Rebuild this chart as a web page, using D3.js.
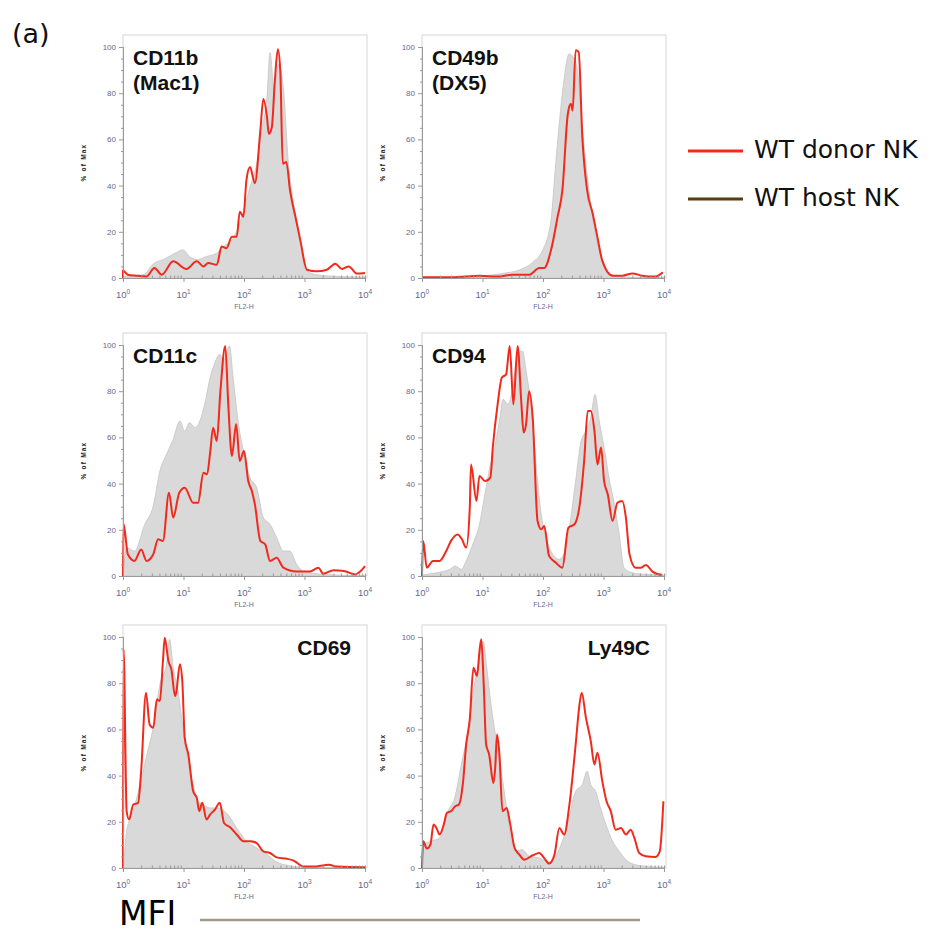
<!DOCTYPE html>
<html>
<head>
<meta charset="utf-8">
<script src="https://cdn.jsdelivr.net/npm/d3@7/dist/d3.min.js"></script>
<style>
  html, body { margin: 0; padding: 0; background: #fff; }
  svg { display: block; }
</style>
</head>
<body>
<svg id="chart" width="930" height="933"></svg>
<script>
// Flow cytometry overlays: donor vs host NK cells, six surface markers.
// Each point is [log10(FL2-H), % of max].

const markers = ["CD11b", "CD49b", "CD11c", "CD94", "CD69", "Ly49C"];
const subtitles = ["(Mac1)", "(DX5)", "", "", "", ""];

const cd11bDonor = [[0,0],[0,3.3],[0.08,1.4],[0.22,1],[0.39,0.7],[0.52,4.3],[0.64,1.4],[0.83,7.2],[1.05,3.9],[1.22,7.2],[1.33,5],[1.41,6.5],[1.55,5.7],[1.63,13.6],[1.71,12.9],[1.8,17.9],[1.88,17.9],[1.93,28.7],[1.99,26.5],[2.04,42.3],[2.1,48],[2.18,41],[2.27,63.8],[2.32,77.5],[2.38,69.6],[2.41,62.4],[2.46,65.3],[2.51,85.4],[2.56,99],[2.6,89.7],[2.64,49.5],[2.7,50.2],[2.76,38],[2.85,26.5],[2.93,16.5],[3.04,3.6],[3.2,2.9],[3.37,3.6],[3.51,6.2],[3.62,3.9],[3.73,5],[3.87,1.9],[4,2.2]];
const cd11bHost = [[0,0.7],[0.33,1.4],[0.52,6.5],[0.66,7.9],[0.88,11],[0.99,12.2],[1.1,9.3],[1.22,7.9],[1.38,9.3],[1.55,10.8],[1.66,13.6],[1.82,17.2],[1.93,23.7],[2.1,39.5],[2.21,49.5],[2.29,63.8],[2.38,78.2],[2.43,97.6],[2.5,81],[2.57,92.5],[2.65,82.5],[2.73,51],[2.82,32.3],[2.93,16.5],[3.01,3.6],[3.2,1.4],[3.54,0.7],[4,0.4]];

const cd49bDonor = [[0,0.3],[0.51,0.3],[0.95,1],[1.23,0.6],[1.5,1.4],[1.77,1.4],[1.94,4.3],[2.02,4.3],[2.13,11.8],[2.24,26.3],[2.32,37.9],[2.41,71],[2.46,75.4],[2.49,72.5],[2.54,98.6],[2.59,97.8],[2.65,61],[2.73,37.9],[2.82,28],[2.9,17.6],[2.98,7.5],[3.15,1],[3.31,1],[3.48,2],[3.64,1],[3.86,0.6],[3.98,2.5]];
const cd49bHost = [[0,0.1],[0.79,0.6],[1.34,2],[1.61,3.5],[1.83,6.8],[1.99,11.8],[2.13,24.6],[2.21,49.4],[2.29,72.5],[2.35,86.3],[2.43,97],[2.5,95.5],[2.57,90],[2.62,74],[2.71,49.4],[2.82,26.3],[2.93,11.8],[3.04,3.2],[3.2,1],[3.53,0.3],[4,0.1]];

const cd11cDonor = [[0,0],[0.01,22.4],[0.08,9.4],[0.19,6.5],[0.3,11.5],[0.39,6.5],[0.5,9.4],[0.58,15.9],[0.66,15.2],[0.76,36],[0.83,25.3],[0.93,36],[1.02,38.2],[1.16,31.7],[1.24,31.7],[1.33,44.7],[1.39,44],[1.44,53.4],[1.49,64.2],[1.55,58.4],[1.61,80],[1.69,99.6],[1.74,74.3],[1.8,52],[1.87,65.7],[1.93,49.8],[2,54.1],[2.07,41.1],[2.13,36.8],[2.18,31],[2.27,15.2],[2.35,13.7],[2.43,6.5],[2.54,7.9],[2.65,3.6],[2.87,1.9],[3.09,1.9],[3.23,3.6],[3.31,1],[3.48,2.5],[3.65,2.2],[3.84,0.7],[3.92,1.9],[4,4.3]];
const cd11cHost = [[0,0],[0.06,12.3],[0.19,10.8],[0.36,22.4],[0.5,30.3],[0.61,45.5],[0.72,52.7],[0.83,59.2],[0.94,67.1],[1.02,62.8],[1.1,66.4],[1.19,64.2],[1.27,67.1],[1.35,74.3],[1.44,85.9],[1.52,92.4],[1.6,96],[1.66,93.1],[1.76,99.6],[1.82,85.9],[1.91,65.7],[1.99,54.1],[2.1,42.6],[2.21,38.2],[2.32,25.3],[2.43,22.4],[2.54,16.6],[2.65,10.8],[2.76,10.8],[2.87,5],[2.98,2.2],[3.2,1],[3.54,0.4],[4,0.1]];

const cd94Donor = [[0,0],[0.02,15.2],[0.08,3.6],[0.18,6.5],[0.29,6.5],[0.4,10.8],[0.48,15.2],[0.59,18],[0.66,15.9],[0.73,12.3],[0.79,29.6],[0.81,48.3],[0.9,32.5],[0.95,43.3],[1.04,41.1],[1.13,42.6],[1.17,55.6],[1.25,74.3],[1.32,85.9],[1.39,87.3],[1.45,99.6],[1.51,74.3],[1.58,99.6],[1.64,75.8],[1.68,62.1],[1.72,65.7],[1.77,80],[1.83,68.5],[1.91,23.8],[1.97,20.2],[2.02,21.6],[2.1,8.7],[2.21,5.8],[2.32,3.6],[2.42,20.9],[2.52,22.4],[2.6,29.6],[2.68,49.8],[2.74,71.4],[2.79,71.4],[2.85,62.8],[2.9,48.3],[2.96,55.6],[3.01,41.1],[3.07,35.4],[3.15,23.8],[3.23,31.7],[3.31,32.5],[3.37,25.3],[3.43,9.4],[3.53,3.6],[3.62,3.6],[3.7,4.8],[3.81,1.9],[3.97,0.4]];
const cd94Host = [[0,0.4],[0.24,1.4],[0.46,2.9],[0.55,4.3],[0.65,2.9],[0.73,6.5],[0.84,13.7],[0.95,22.4],[1.04,35.4],[1.12,46.9],[1.2,55.6],[1.28,67.1],[1.34,76.5],[1.42,74.3],[1.5,81.5],[1.58,96],[1.66,97.4],[1.72,88.7],[1.8,74.3],[1.88,49.8],[1.97,26.7],[2.05,16.6],[2.16,9.4],[2.27,7.2],[2.38,12.3],[2.46,25.3],[2.54,41.1],[2.63,58.4],[2.71,62.8],[2.79,68.5],[2.86,78.6],[2.93,67.1],[3.01,55.6],[3.09,42.6],[3.18,31],[3.26,18],[3.34,3.6],[3.48,1.4],[3.7,0.7],[4,0.4]];

const cd69Donor = [[0,0],[0.01,94.7],[0.06,24.6],[0.1,21],[0.17,27.5],[0.25,28.2],[0.3,41.9],[0.38,75.9],[0.44,62.1],[0.5,60.7],[0.56,73],[0.61,72.3],[0.66,89.6],[0.69,99.7],[0.75,89.6],[0.8,86],[0.86,74.4],[0.88,75.9],[0.94,88.2],[0.98,80.9],[1.02,56.4],[1.08,49.1],[1.16,33.2],[1.22,30.3],[1.26,24.6],[1.31,28.2],[1.38,21],[1.44,23.1],[1.52,25.3],[1.6,28.2],[1.67,19.5],[1.77,17.6],[1.88,14.5],[1.99,11.6],[2.1,11.6],[2.21,10.8],[2.32,7.2],[2.43,6.5],[2.54,4.6],[2.71,4],[2.82,3.2],[2.98,0.7],[3.2,0.7],[3.4,1.4],[3.54,0.6],[4,0.3]];
const cd69Host = [[0.01,0],[0.06,15.9],[0.17,24.6],[0.28,36.1],[0.41,50.6],[0.52,63.6],[0.61,79.5],[0.72,88.2],[0.77,99],[0.83,86.7],[0.91,76.6],[0.99,60.7],[1.08,46.2],[1.16,36.1],[1.24,28.9],[1.33,27.5],[1.44,26],[1.57,26],[1.71,23.8],[1.88,17.3],[2.04,11.6],[2.21,8.7],[2.38,5.8],[2.54,2.6],[2.71,1.2],[2.98,0.3],[4,0.1]];

const ly49cDonor = [[0,0],[0.02,11.6],[0.08,8.4],[0.14,10.1],[0.19,18.8],[0.24,17.3],[0.29,14.5],[0.36,18.8],[0.41,23.8],[0.48,24.6],[0.55,26.7],[0.61,27.5],[0.68,37.6],[0.73,53.5],[0.79,64.3],[0.85,86.7],[0.91,83.1],[0.95,93.9],[0.98,99],[1.02,79.5],[1.06,53.5],[1.11,49.1],[1.18,36.8],[1.21,43.4],[1.24,57.8],[1.28,49.1],[1.33,24.6],[1.4,26],[1.45,20.2],[1.53,8.7],[1.61,5.8],[1.69,3.6],[1.83,5.5],[1.94,6.5],[2.02,4.3],[2.1,1.9],[2.19,5.8],[2.27,17.3],[2.35,14.5],[2.43,26],[2.54,53.5],[2.6,70.1],[2.64,75.9],[2.71,65],[2.79,54.9],[2.85,44.8],[2.9,49.9],[2.98,37.6],[3.05,28.9],[3.12,24.6],[3.2,16.6],[3.29,17.3],[3.37,14.5],[3.45,16.6],[3.51,13],[3.59,6.5],[3.7,5.1],[3.86,4.8],[3.93,7.2],[3.99,28.9]];
const ly49cHost = [[0,0],[0.03,10.1],[0.15,11.6],[0.29,13],[0.43,24.6],[0.54,30.3],[0.65,44.8],[0.76,59.2],[0.84,75.1],[0.92,86.7],[1.01,98.3],[1.07,86.7],[1.14,70.8],[1.23,54.9],[1.31,41.9],[1.39,27.5],[1.47,13],[1.55,7.2],[1.66,7.9],[1.77,5.1],[1.94,4.3],[2.1,2.6],[2.21,5.1],[2.32,11.6],[2.43,21.7],[2.54,33.2],[2.65,36.1],[2.73,41.9],[2.79,36.1],[2.87,33.2],[2.95,26],[3.04,18.8],[3.15,11.6],[3.26,7.2],[3.37,3.6],[3.53,1.4],[3.75,0.7],[4,0.3]];

const donorSeries = [cd11bDonor, cd49bDonor, cd11cDonor, cd94Donor, cd69Donor, ly49cDonor];
const hostSeries = [cd11bHost, cd49bHost, cd11cHost, cd94Host, cd69Host, ly49cHost];

const xTickValues = [1, 10, 100, 1000, 10000];
const yTickValues = [0, 20, 40, 60, 80, 100];
const legendLabels = ["WT donor NK", "WT host NK"];
const xAxisTitle = "FL2-H";
const yAxisTitle = "% of Max";

const svg = d3.select("#chart");

const colLeft = [123, 422];
const rowTop = [35, 333, 625];
const plotW = 244, plotH = 243, yTopPad = 12;
const donorColor = "#f02a1c";
const hostFill = "#d9d9d9";
const tickColor = "#67678c";

markers.forEach((name, i) => {
  const col = i % 2, row = Math.floor(i / 2);
  const x0 = colLeft[col], top = rowTop[row];
  const g = svg.append("g");

  const x = d3.scaleLog().domain([1, 10000]).range([x0, x0 + 242]);
  const y = d3.scaleLinear().domain([0, 100]).range([top + plotH, top + yTopPad]);
  const xv = d => x(Math.pow(10, d[0]));

  // light frame
  g.append("rect")
    .attr("x", x0).attr("y", top)
    .attr("width", plotW).attr("height", plotH)
    .attr("fill", "none").attr("stroke", "#d6d6d6").attr("stroke-width", 1);

  // host histogram (filled)
  g.append("path")
    .datum(hostSeries[i])
    .attr("d", d3.area().curve(d3.curveMonotoneX).x(xv).y0(y(0)).y1(d => y(d[1])))
    .attr("fill", hostFill)
    .attr("stroke", "#c4c4c4")
    .attr("stroke-width", 0.8);

  // donor histogram (line)
  g.append("path")
    .datum(donorSeries[i])
    .attr("d", d3.line().curve(d3.curveMonotoneX).x(xv).y(d => y(d[1])))
    .attr("fill", "none")
    .attr("stroke", donorColor)
    .attr("stroke-width", 2)
    .attr("stroke-linejoin", "round");

  // x axis: major ticks with 10^n labels, minor log ticks inside
  const xAxis = g.append("g").attr("transform", `translate(0,${top + plotH})`)
    .call(d3.axisBottom(x).tickValues(xTickValues).tickSize(4).tickFormat(""));
  const minor = x.ticks().filter(v => !xTickValues.includes(v));
  const xMinor = g.append("g").attr("transform", `translate(0,${top + plotH})`)
    .call(d3.axisBottom(x).tickValues(minor).tickSize(-2.5).tickFormat(""));
  [xAxis, xMinor].forEach(a => {
    a.select(".domain").attr("stroke", "#9a9a9a");
    a.selectAll(".tick line").attr("stroke", "#9a9a9a");
  });

  xTickValues.forEach((v, k) => {
    const t = g.append("text")
      .attr("x", x(v)).attr("y", top + plotH + 20)
      .attr("text-anchor", "middle")
      .attr("font-family", "Liberation Sans, Arial, sans-serif")
      .attr("font-size", 9.5).attr("fill", tickColor);
    t.append("tspan").text("10");
    t.append("tspan").attr("dy", -4).attr("font-size", 6.5).text(k);
  });
  g.append("text")
    .attr("x", x(100)).attr("y", top + plotH + 31)
    .attr("text-anchor", "middle")
    .attr("font-family", "Liberation Sans, Arial, sans-serif")
    .attr("font-size", 7).attr("fill", tickColor)
    .text(xAxisTitle);

  // y axis
  const yAxis = g.append("g").attr("transform", `translate(${x0},0)`)
    .call(d3.axisLeft(y).tickValues(yTickValues).tickSize(4).tickPadding(3));
  const yMinor = g.append("g").attr("transform", `translate(${x0},0)`)
    .call(d3.axisLeft(y).tickValues(d3.range(5, 100, 5).filter(v => v % 20)).tickSize(2).tickFormat(""));
  [yAxis, yMinor].forEach(a => {
    a.select(".domain").attr("stroke", "#9a9a9a");
    a.selectAll(".tick line").attr("stroke", "#9a9a9a");
  });
  yAxis.selectAll(".tick text")
    .attr("font-family", "Liberation Sans, Arial, sans-serif")
    .attr("font-size", 8).attr("fill", tickColor);

  g.append("text")
    .attr("transform", `translate(${x0 - 37},${(y(0) + y(100)) / 2}) rotate(-90)`)
    .attr("text-anchor", "middle")
    .attr("font-family", "Liberation Sans, Arial, sans-serif")
    .attr("font-size", 6.5).attr("font-weight", "bold")
    .attr("letter-spacing", 1.2).attr("fill", "#222")
    .text(yAxisTitle);

  // marker title
  const rightAligned = row === 2;
  const tx = rightAligned ? x0 + 228 : x0 + 10;
  g.append("text")
    .attr("x", tx).attr("y", top + 30)
    .attr("text-anchor", rightAligned ? "end" : "start")
    .attr("font-family", "Liberation Sans, Arial, sans-serif")
    .attr("font-size", 21).attr("font-weight", "bold").attr("fill", "#111")
    .text(name);
  if (subtitles[i]) {
    g.append("text")
      .attr("x", tx).attr("y", top + 55)
      .attr("font-family", "Liberation Sans, Arial, sans-serif")
      .attr("font-size", 21).attr("font-weight", "bold").attr("fill", "#111")
      .text(subtitles[i]);
  }
});

// panel label
svg.append("text")
  .attr("x", 12).attr("y", 43)
  .attr("font-family", "DejaVu Sans, sans-serif")
  .attr("font-size", 27).attr("fill", "#111")
  .text("(a)");

// legend
const legendColors = [donorColor, "#5b3a0e"];
const legendY = [151, 199];
legendLabels.forEach((lab, k) => {
  svg.append("line")
    .attr("x1", 688).attr("x2", 743)
    .attr("y1", legendY[k]).attr("y2", legendY[k])
    .attr("stroke", legendColors[k]).attr("stroke-width", 3);
  svg.append("text")
    .attr("x", 754).attr("y", legendY[k] + 7)
    .attr("font-family", "DejaVu Sans, sans-serif")
    .attr("font-size", 25).attr("fill", "#111")
    .text(lab);
});

// MFI caption with rule
svg.append("text")
  .attr("x", 119).attr("y", 925)
  .attr("font-family", "DejaVu Sans, sans-serif")
  .attr("font-size", 33).attr("fill", "#000")
  .text("MFI");
svg.append("line")
  .attr("x1", 200).attr("x2", 640)
  .attr("y1", 920).attr("y2", 920)
  .attr("stroke", "#a19a89").attr("stroke-width", 2.5);
</script>
</body>
</html>
